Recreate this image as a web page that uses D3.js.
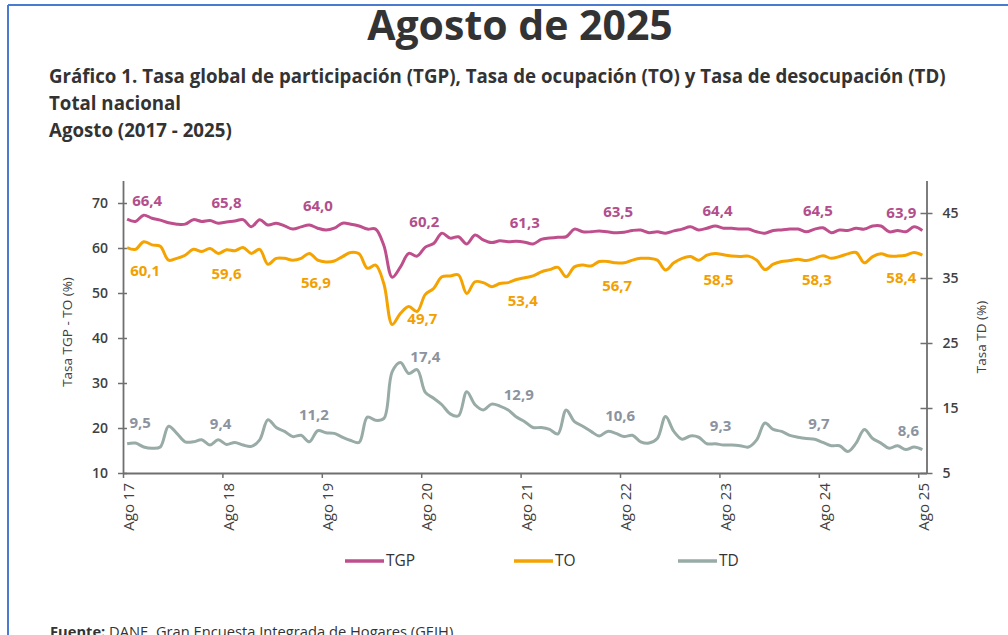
<!DOCTYPE html>
<html>
<head>
<meta charset="utf-8">
<script src="https://cdn.jsdelivr.net/npm/d3@7"></script>
<style>
    body { margin: 0; background: #fff; }
    text { font-family: "Open Sans", "Noto Sans", sans-serif; }
</style>
</head>
<body>
<div id="chart"></div>
<script>
// months from Ago 2017 (index 0) to Ago 2025 (index 96)
var tickLabels = ["Ago 17", "Ago 18", "Ago 19", "Ago 20", "Ago 21", "Ago 22", "Ago 23", "Ago 24", "Ago 25"];

var tgp = [66.4, 65.9, 67.3, 66.6, 66.2, 65.6, 65.3, 65.3, 66.3, 65.9, 66.1, 65.5,
    65.8, 66.0, 66.3, 64.7, 66.3, 65.1, 65.5, 64.9, 64.2, 64.7, 65.1, 64.4,
    64.0, 64.4, 65.5, 65.3, 64.9, 64.2, 64.2, 60.5, 53.5, 55.8, 58.8, 58.2,
    60.2, 61.0, 63.3, 62.2, 62.5, 60.9, 62.9, 61.8, 61.2, 61.6, 61.4, 61.5,
    61.3, 60.9, 61.9, 62.2, 62.4, 62.5, 64.2, 63.6, 63.6, 63.8, 63.6, 63.4,
    63.5, 63.9, 64.0, 63.4, 63.6, 63.3, 63.8, 64.2, 64.7, 64.0, 64.4, 64.9,
    64.4, 64.4, 64.2, 64.2, 63.6, 63.3, 63.9, 64.0, 64.2, 64.2, 63.6, 64.2,
    64.5, 63.4, 64.0, 63.9, 64.4, 64.2, 64.9, 64.9, 63.6, 63.9, 63.6, 64.7,
    63.9];

var to = [60.1, 59.7, 61.4, 60.7, 60.4, 57.3, 57.7, 58.4, 59.7, 59.2, 59.9, 58.8,
    59.6, 59.4, 60.1, 58.8, 59.7, 56.4, 57.7, 57.7, 57.3, 57.7, 58.8, 57.3,
    56.9, 57.1, 58.1, 59.0, 58.7, 55.5, 56.2, 52.0, 43.0, 45.5, 47.0, 45.9,
    49.7, 51.0, 53.6, 53.8, 54.0, 49.9, 52.5, 52.3, 51.4, 52.1, 52.3, 53.0,
    53.4, 53.8, 54.7, 55.2, 55.7, 53.6, 55.8, 56.2, 56.0, 57.0, 57.0, 56.7,
    56.7, 57.3, 57.7, 57.7, 57.3, 55.1, 56.7, 57.7, 58.1, 57.3, 58.4, 58.8,
    58.5, 58.2, 58.1, 58.2, 57.3, 55.2, 56.4, 57.0, 57.2, 57.5, 57.2, 57.7,
    58.3, 57.7, 58.1, 58.7, 59.0, 56.7, 58.1, 58.7, 58.2, 58.2, 58.4, 59.0,
    58.4];

var td = [9.5, 9.6, 9.0, 8.8, 9.0, 12.2, 11.1, 9.8, 9.8, 10.1, 9.3, 10.1,
    9.4, 9.7, 9.3, 9.1, 10.1, 13.2, 12.0, 11.4, 10.6, 10.8, 9.8, 11.5,
    11.2, 11.1, 10.5, 10.0, 9.7, 13.6, 13.1, 13.4, 20.6, 22.0, 20.3, 20.9,
    17.4, 16.5, 15.5, 14.1, 13.8, 17.5, 15.5, 14.7, 15.6, 15.3, 14.7, 13.6,
    12.9, 12.0, 12.0, 11.7, 11.0, 14.7, 12.9, 12.2, 11.4, 10.7, 11.4, 11.1,
    10.6, 10.8, 9.8, 9.6, 10.3, 13.7, 11.4, 10.2, 10.7, 10.5, 9.5, 9.5,
    9.3, 9.3, 9.2, 9.0, 10.1, 12.7, 11.7, 11.4, 10.8, 10.5, 10.3, 10.2,
    9.7, 9.2, 9.2, 8.3, 9.6, 11.7, 10.3, 9.6, 8.8, 9.2, 8.6, 9.0,
    8.6];

// label placement (dx, dy in px from the August point)
var tgpLabelShift = [[20, -19], [0, -20], [-8, -25], [-1, -26], [0, -20], [-6, -21], [-6, -18], [-5, -18], [-21, -18]];
var toLabelShift = [[18, 22], [0, 23], [-10, 20], [-3, 24], [-2, 22], [-7, 22], [-5, 24], [-6, 23], [-21, 22]];
var tdLabelShift = [[13, -22], [-6, -21], [-12, -19], [0, -36], [-6, -28], [-4, -22], [-3, -20], [-4, -19], [-14, -20]];

var colors = { tgp: "#BE4F8C", to: "#F5A300", td: "#98ABA6" };
var labelColors = { tgp: "#B24E8C", to: "#F2A000", td: "#8C93A0" };

var width = 1008;
var height = 635;

var svg = d3.select("#chart")
    .append("svg")
    .attr("width", width)
    .attr("height", height);

// page frame
svg.append("line").attr("x1", 8).attr("x2", width).attr("y1", 5).attr("y2", 5)
    .attr("stroke", "#4A7BD0").attr("stroke-width", 2);
svg.append("line").attr("x1", 8).attr("x2", 8).attr("y1", 5).attr("y2", height)
    .attr("stroke", "#4A7BD0").attr("stroke-width", 2);

svg.append("text")
    .attr("x", 520).attr("y", 40)
    .attr("text-anchor", "middle")
    .attr("font-size", 41).attr("font-weight", 700)
    .attr("fill", "#333")
    .text("Agosto de 2025");

var subtitles = ["Gráfico 1. Tasa global de participación (TGP), Tasa de ocupación (TO) y Tasa de desocupación (TD)",
    "Total nacional", "Agosto (2017 - 2025)"];
svg.append("g").selectAll("text").data(subtitles).enter().append("text")
    .attr("x", 49)
    .attr("y", (d, i) => 83 + i * 27)
    .attr("font-size", 18.7).attr("font-weight", 700)
    .attr("fill", "#333")
    .text(d => d);

var x = d3.scaleLinear()
    .domain([0, 97])
    .range([123, 926.5]);
var yL = d3.scaleLinear()
    .domain([10, 75])
    .range([473, 180.5]);
var yR = d3.scaleLinear()
    .domain([5, 50])
    .range([473, 180.5]);

var axisColor = "#6f6f6f";

var xAxis = g => g
    .attr("transform", `translate(0,${yL(10)})`)
    .call(d3.axisBottom(x)
        .tickValues(d3.range(0, 97, 12))
        .tickFormat((d, i) => tickLabels[i])
        .tickSize(5)
        .tickSizeOuter(0))
    .call(g => g.selectAll(".tick text").remove());

var yAxisLeft = g => g
    .attr("transform", `translate(${x(0)},0)`)
    .call(d3.axisLeft(yL)
        .tickValues([10, 20, 30, 40, 50, 60, 70])
        .tickSize(5)
        .tickSizeOuter(0)
        .tickPadding(10))
    .call(g => g.selectAll(".tick line").attr("x2", -5).attr("x1", 4));

var yAxisRight = g => g
    .attr("transform", `translate(${x(97)},0)`)
    .call(d3.axisRight(yR)
        .tickValues([5, 15, 25, 35, 45])
        .tickSize(6)
        .tickSizeOuter(0)
        .tickPadding(10))
    .call(g => g.selectAll(".tick line").attr("x1", -6).attr("x2", 6));

[xAxis, yAxisLeft, yAxisRight].forEach(a => {
    svg.append("g").call(a)
        .call(g => g.select(".domain").attr("stroke", axisColor).attr("stroke-width", 1.8))
        .call(g => g.selectAll(".tick line").attr("stroke", axisColor).attr("stroke-width", 1.5))
        .call(g => g.selectAll(".tick text")
            .attr("font-family", "'Open Sans', sans-serif")
            .attr("font-size", 14).attr("font-weight", 600)
            .attr("fill", "#404040"));
});

// rotated month labels
svg.append("g").selectAll("text").data(tickLabels).enter().append("text")
    .attr("transform", (d, i) => `translate(${x(i * 12) + 6},483) rotate(-90)`)
    .attr("text-anchor", "end")
    .attr("dy", "0.35em")
    .attr("font-size", 15)
    .attr("fill", "#404040")
    .text(d => d);

svg.append("text")
    .attr("transform", "translate(67,332) rotate(-90)")
    .attr("text-anchor", "middle").attr("dy", "0.35em")
    .attr("font-size", 13.5).attr("fill", "#404040")
    .text("Tasa TGP - TO (%)");

svg.append("text")
    .attr("transform", "translate(981,337) rotate(-90)")
    .attr("text-anchor", "middle").attr("dy", "0.35em")
    .attr("font-size", 13.5).attr("fill", "#404040")
    .text("Tasa TD (%)");

var series = [
    { key: "tgp", values: tgp, y: yL, shift: tgpLabelShift },
    { key: "to", values: to, y: yL, shift: toLabelShift },
    { key: "td", values: td, y: yR, shift: tdLabelShift }
];

series.forEach(s => {
    var line = d3.line()
        .x((d, i) => x(i + 0.5))
        .y(d => s.y(d))
        .curve(d3.curveCatmullRom.alpha(0.5));

    svg.append("path")
        .datum(s.values)
        .attr("fill", "none")
        .attr("stroke", colors[s.key])
        .attr("stroke-width", 3)
        .attr("stroke-linejoin", "round")
        .attr("d", line);

    var augusts = d3.range(0, 97, 12);
    svg.append("g").selectAll("text").data(augusts).enter().append("text")
        .attr("x", (m, k) => x(m + 0.5) + s.shift[k][0])
        .attr("y", (m, k) => s.y(s.values[m]) + s.shift[k][1])
        .attr("text-anchor", "middle")
        .attr("dominant-baseline", "central")
        .attr("font-size", 15).attr("font-weight", 700)
        .attr("fill", labelColors[s.key])
        .text(m => d3.format(".1f")(s.values[m]).replace(".", ","));
});

// legend
var legend = [
    { key: "tgp", name: "TGP", x: 345 },
    { key: "to", name: "TO", x: 514 },
    { key: "td", name: "TD", x: 678 }
];
var lg = svg.append("g").selectAll("g").data(legend).enter().append("g")
    .attr("transform", d => `translate(${d.x},561)`);
lg.append("line")
    .attr("x1", 0).attr("x2", 39)
    .attr("stroke", d => colors[d.key])
    .attr("stroke-width", 3.5);
lg.append("text")
    .attr("x", 41).attr("dy", "0.35em")
    .attr("font-size", 15.5).attr("fill", "#333")
    .text(d => d.name);

var src = svg.append("text")
    .attr("x", 50).attr("y", 637)
    .attr("font-size", 14.7).attr("fill", "#333");
src.append("tspan").attr("font-weight", 700).text("Fuente:");
src.append("tspan").text(" DANE, Gran Encuesta Integrada de Hogares (GEIH).");
</script>
</body>
</html>
